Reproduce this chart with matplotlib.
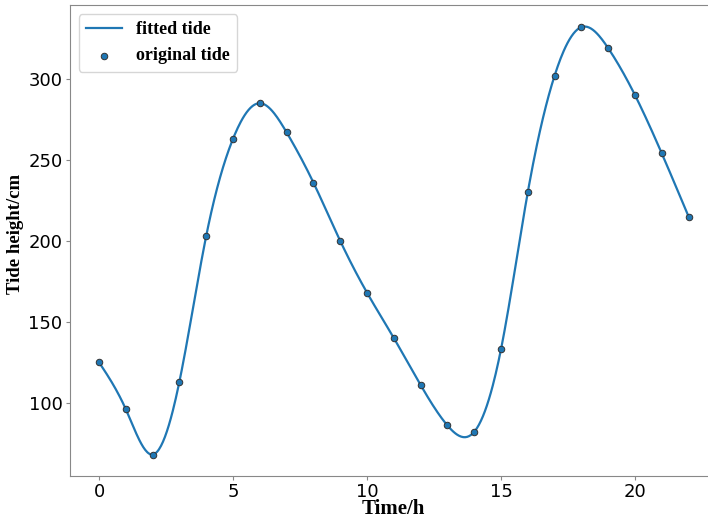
import numpy as np
import matplotlib
matplotlib.use("Agg")
import matplotlib.pyplot as plt

# Hourly tide readings
hours = list(range(23))
tide_cm = [125, 96, 68, 113, 203, 263, 285, 267, 236, 200, 168, 140,
           111, 86, 82, 133, 230, 302, 332, 319, 290, 254, 215]

x_label = "Time/h"
y_label = "Tide height/cm"
line_label = "fitted tide"
point_label = "original tide"


def natural_cubic_spline(x, y, xs):
    """Natural cubic spline through (x, y), evaluated at xs."""
    x = np.asarray(x, float)
    y = np.asarray(y, float)
    n = len(x) - 1
    h = np.diff(x)
    d = np.diff(y) / h
    A = np.zeros((n + 1, n + 1))
    b = np.zeros(n + 1)
    A[0, 0] = 1.0
    A[n, n] = 1.0
    for i in range(1, n):
        A[i, i - 1] = h[i - 1]
        A[i, i] = 2 * (h[i - 1] + h[i])
        A[i, i + 1] = h[i]
        b[i] = 6 * (d[i] - d[i - 1])
    M = np.linalg.solve(A, b)
    idx = np.clip(np.searchsorted(x, xs) - 1, 0, n - 1)
    x0, x1 = x[idx], x[idx + 1]
    hh = x1 - x0
    t0, t1 = x1 - xs, xs - x0
    return (M[idx] * t0 ** 3 / (6 * hh) + M[idx + 1] * t1 ** 3 / (6 * hh)
            + (y[idx] / hh - M[idx] * hh / 6) * t0
            + (y[idx + 1] / hh - M[idx + 1] * hh / 6) * t1)


xs = np.linspace(hours[0], hours[-1], 600)
ys = natural_cubic_spline(hours, tide_cm, xs)

fig = plt.figure(figsize=(7.08, 5.18), dpi=100)
ax = fig.add_axes([0.0982, 0.0811, 0.916, 0.909])

ax.plot(xs, ys, color="#1f77b4", lw=1.6, label=line_label)
ax.scatter(hours, tide_cm, s=22, color="#1f77b4", edgecolors="#333333",
           linewidths=0.7, zorder=3, label=point_label)

for sp in ax.spines.values():
    sp.set_color("#888888")
ax.tick_params(axis="both", labelsize=13, color="#888888", labelcolor="black",
               length=3, pad=2)

serif = ["Liberation Serif", "DejaVu Serif"]
ax.set_xlabel(x_label, family=serif, weight="bold", size=15)
ax.set_ylabel(y_label, family=serif, weight="bold", size=13.5)
ax.xaxis.set_label_coords(0.5, -0.049)
ax.yaxis.set_label_coords(-0.070, 0.515)

ax.legend(loc="upper left", prop=dict(family=serif, weight="bold", size=13))

fig.savefig("out.png", dpi=100)
